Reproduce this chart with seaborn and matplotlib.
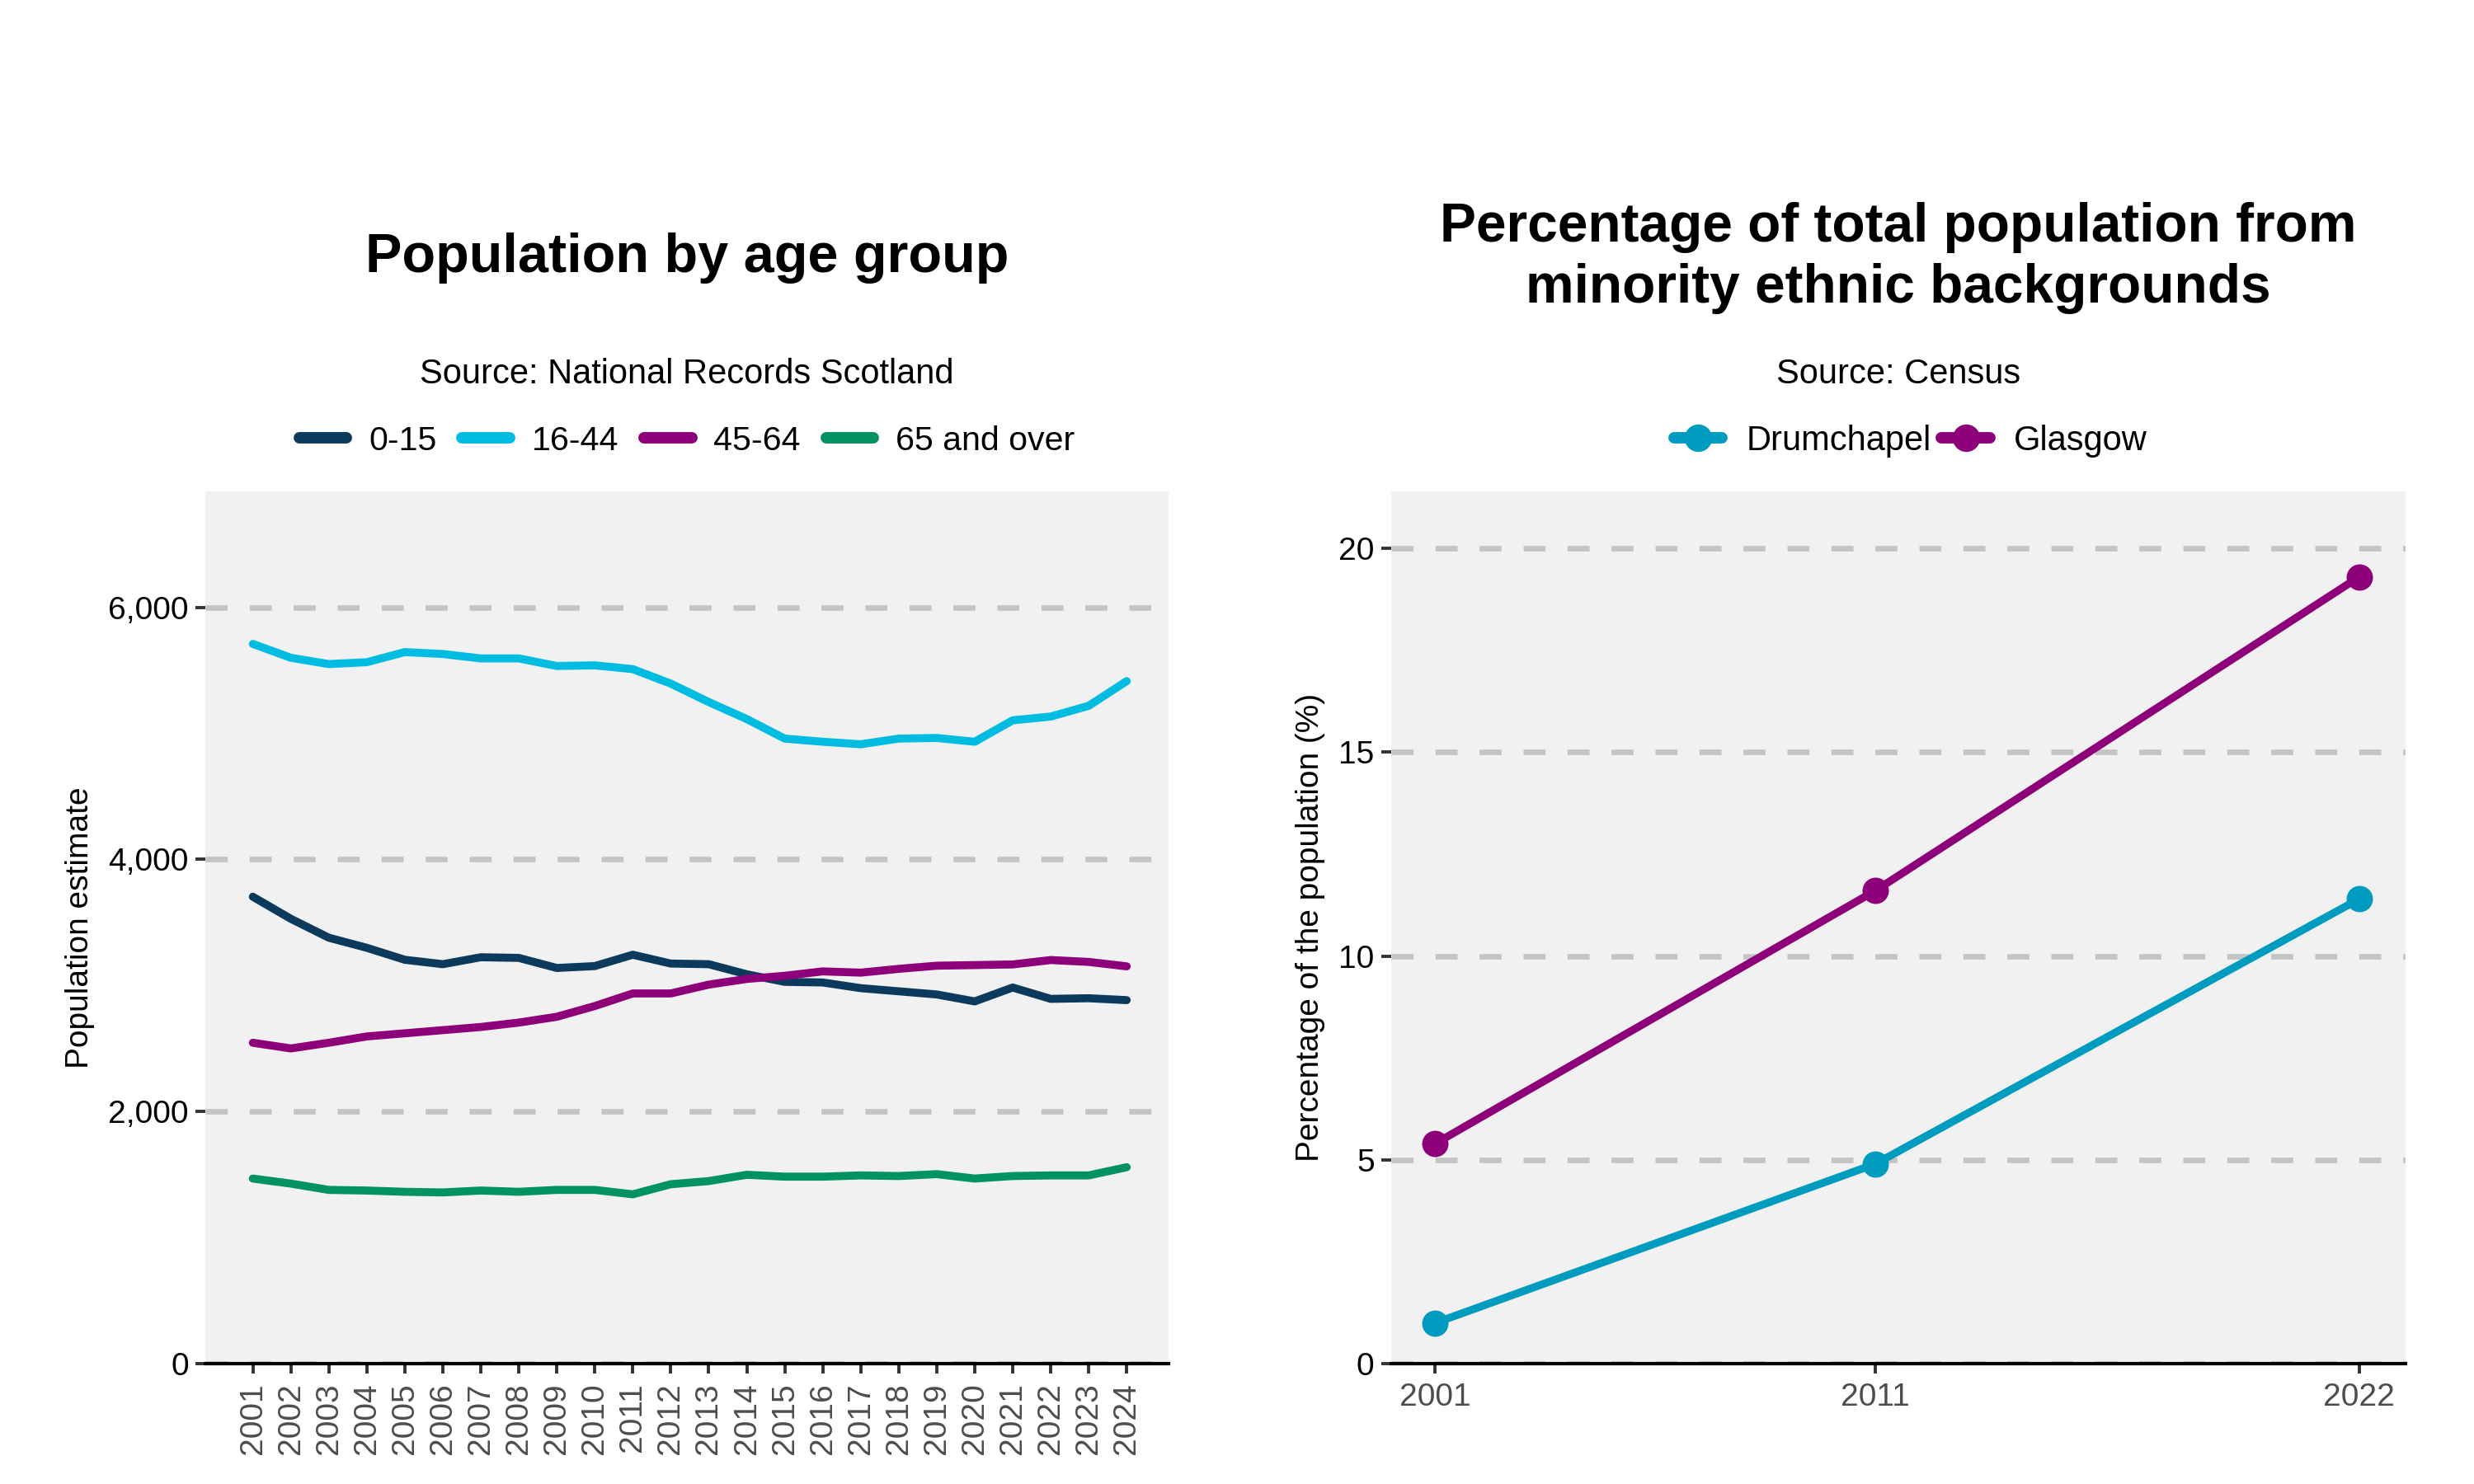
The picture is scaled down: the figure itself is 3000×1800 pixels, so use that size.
import pandas as pd
import matplotlib.pyplot as plt
import seaborn as sns
from matplotlib.ticker import FuncFormatter

sns.set_theme(style="white")
plt.rcParams['font.family'] = ['Liberation Sans', 'DejaVu Sans']
plt.rcParams['text.color'] = 'black'
plt.rcParams['axes.labelcolor'] = 'black'

# Population by age group (National Records Scotland)
years = list(range(2001, 2025))
age_0_15 = [3704, 3529, 3379, 3299, 3204, 3169, 3224, 3219, 3139, 3154, 3244, 3174,
            3169, 3089, 3029, 3024, 2979, 2954, 2929, 2874, 2984, 2894, 2899, 2884]
age_16_44 = [5709, 5599, 5549, 5564, 5644, 5629, 5594, 5594, 5534, 5539, 5509, 5394,
             5248, 5113, 4958, 4933, 4913, 4958, 4963, 4933, 5103, 5133, 5218, 5414]
age_45_64 = [2546, 2501, 2546, 2596, 2621, 2646, 2671, 2706, 2752, 2837, 2937, 2937,
             3007, 3052, 3077, 3112, 3102, 3132, 3157, 3162, 3167, 3202, 3187, 3152]
age_65_plus = [1469, 1429, 1379, 1374, 1364, 1359, 1374, 1364, 1379, 1379, 1344, 1424,
               1449, 1499, 1484, 1484, 1494, 1489, 1504, 1469, 1489, 1494, 1494, 1559]
age_groups = ['0-15', '16-44', '45-64', '65 and over']
age_colors = ['#0B3A5C', '#00BCE0', '#8E0079', '#00925F']

# Minority ethnic share (Census)
census_years = [2001, 2011, 2022]
drumchapel = [1.0, 4.9, 11.4]
glasgow = [5.4, 11.6, 19.3]
areas = ['Drumchapel', 'Glasgow']
area_colors = ['#009CC0', '#8E0079']

df_age = pd.DataFrame({
    'year': years * 4,
    'value': age_0_15 + age_16_44 + age_45_64 + age_65_plus,
    'group': [g for g in age_groups for _ in years],
})
df_eth = pd.DataFrame({
    'year': census_years * 2,
    'value': drumchapel + glasgow,
    'area': [a for a in areas for _ in census_years],
})

PANEL = '#F1F1F1'
GRID = '#C4C4C4'


def style_axis(ax):
    ax.set_facecolor(PANEL)
    for s in ['top', 'right', 'left']:
        ax.spines[s].set_visible(False)
    ax.spines['bottom'].set_color('black')
    ax.spines['bottom'].set_linewidth(1.5)
    ax.yaxis.grid(True, color=GRID, linewidth=2.4, linestyle=(0, (4, 4)))
    ax.xaxis.grid(False)
    ax.set_axisbelow(True)
    ax.tick_params(axis='both', which='both', length=4.3, width=1.4, color='#333333',
                   bottom=True, left=True)
    ax.tick_params(axis='y', labelsize=14, labelcolor='black', pad=3)
    ax.tick_params(axis='x', labelsize=14, labelcolor='#4D4D4D', pad=4)


fig = plt.figure(figsize=(15, 9), dpi=200)
ax1 = fig.add_axes([0.083, 0.081, 0.3893, 0.588])
ax2 = fig.add_axes([0.5623, 0.081, 0.41, 0.588])

# Left chart
sns.lineplot(data=df_age, x='year', y='value', hue='group', hue_order=age_groups,
             palette=age_colors, linewidth=3.5, ax=ax1, legend=False)
style_axis(ax1)
ax1.set_xlim(2001 - 1.25, 2024 + 1.1)
ax1.set_ylim(0, 6920)
ax1.set_xticks(years)
ax1.set_xticklabels([str(y) for y in years], rotation=90)
ax1.set_yticks([0, 2000, 4000, 6000])
ax1.yaxis.set_major_formatter(FuncFormatter(lambda v, p: f'{int(v):,}'))
ax1.set_xlabel('')
ax1.set_ylabel('Population estimate', fontsize=14, labelpad=6)

# Right chart
sns.lineplot(data=df_eth, x='year', y='value', hue='area', hue_order=areas,
             palette=area_colors, linewidth=3.4, marker='o', markersize=11.5,
             markeredgewidth=0, ax=ax2, legend=False)
style_axis(ax2)
ax2.set_xlim(2000.0, 2023.05)
ax2.set_ylim(0, 21.4)
ax2.set_xticks(census_years)
ax2.set_yticks([0, 5, 10, 15, 20])
ax2.set_xlabel('')
ax2.set_ylabel('Percentage of the population (%)', fontsize=14, labelpad=6)

# Titles and sources
c1 = 0.083 + 0.3893 / 2
c2 = 0.5623 + 0.41 / 2
fig.text(c1, 0.826, 'Population by age group', ha='center', va='center',
         fontsize=24, fontweight='bold')
fig.text(c2, 0.826, 'Percentage of total population from\nminority ethnic backgrounds',
         ha='center', va='center', fontsize=23.7, fontweight='bold', linespacing=1.25)
fig.text(c1, 0.748, 'Source: National Records Scotland', ha='center', va='center', fontsize=15)
fig.text(c2, 0.748, 'Source: Census', ha='center', va='center', fontsize=15)

# Legends
h1 = [plt.Line2D([], [], color=c, linewidth=5) for c in age_colors]
fig.legend(h1, age_groups, loc='center', bbox_to_anchor=(c1, 0.703), ncol=4,
           frameon=False, fontsize=14.8, handlelength=1.4, handletextpad=0.65,
           columnspacing=0.75)
h2 = [plt.Line2D([], [], color=c, linewidth=5, marker='o', markersize=12,
                 markeredgewidth=0) for c in area_colors]
fig.legend(h2, areas, loc='center', bbox_to_anchor=(c2 + 0.005, 0.703), ncol=2,
           frameon=False, fontsize=15, handlelength=1.4, handletextpad=0.7,
           columnspacing=0.3)

fig.savefig('out.png', dpi=200, facecolor='white')
